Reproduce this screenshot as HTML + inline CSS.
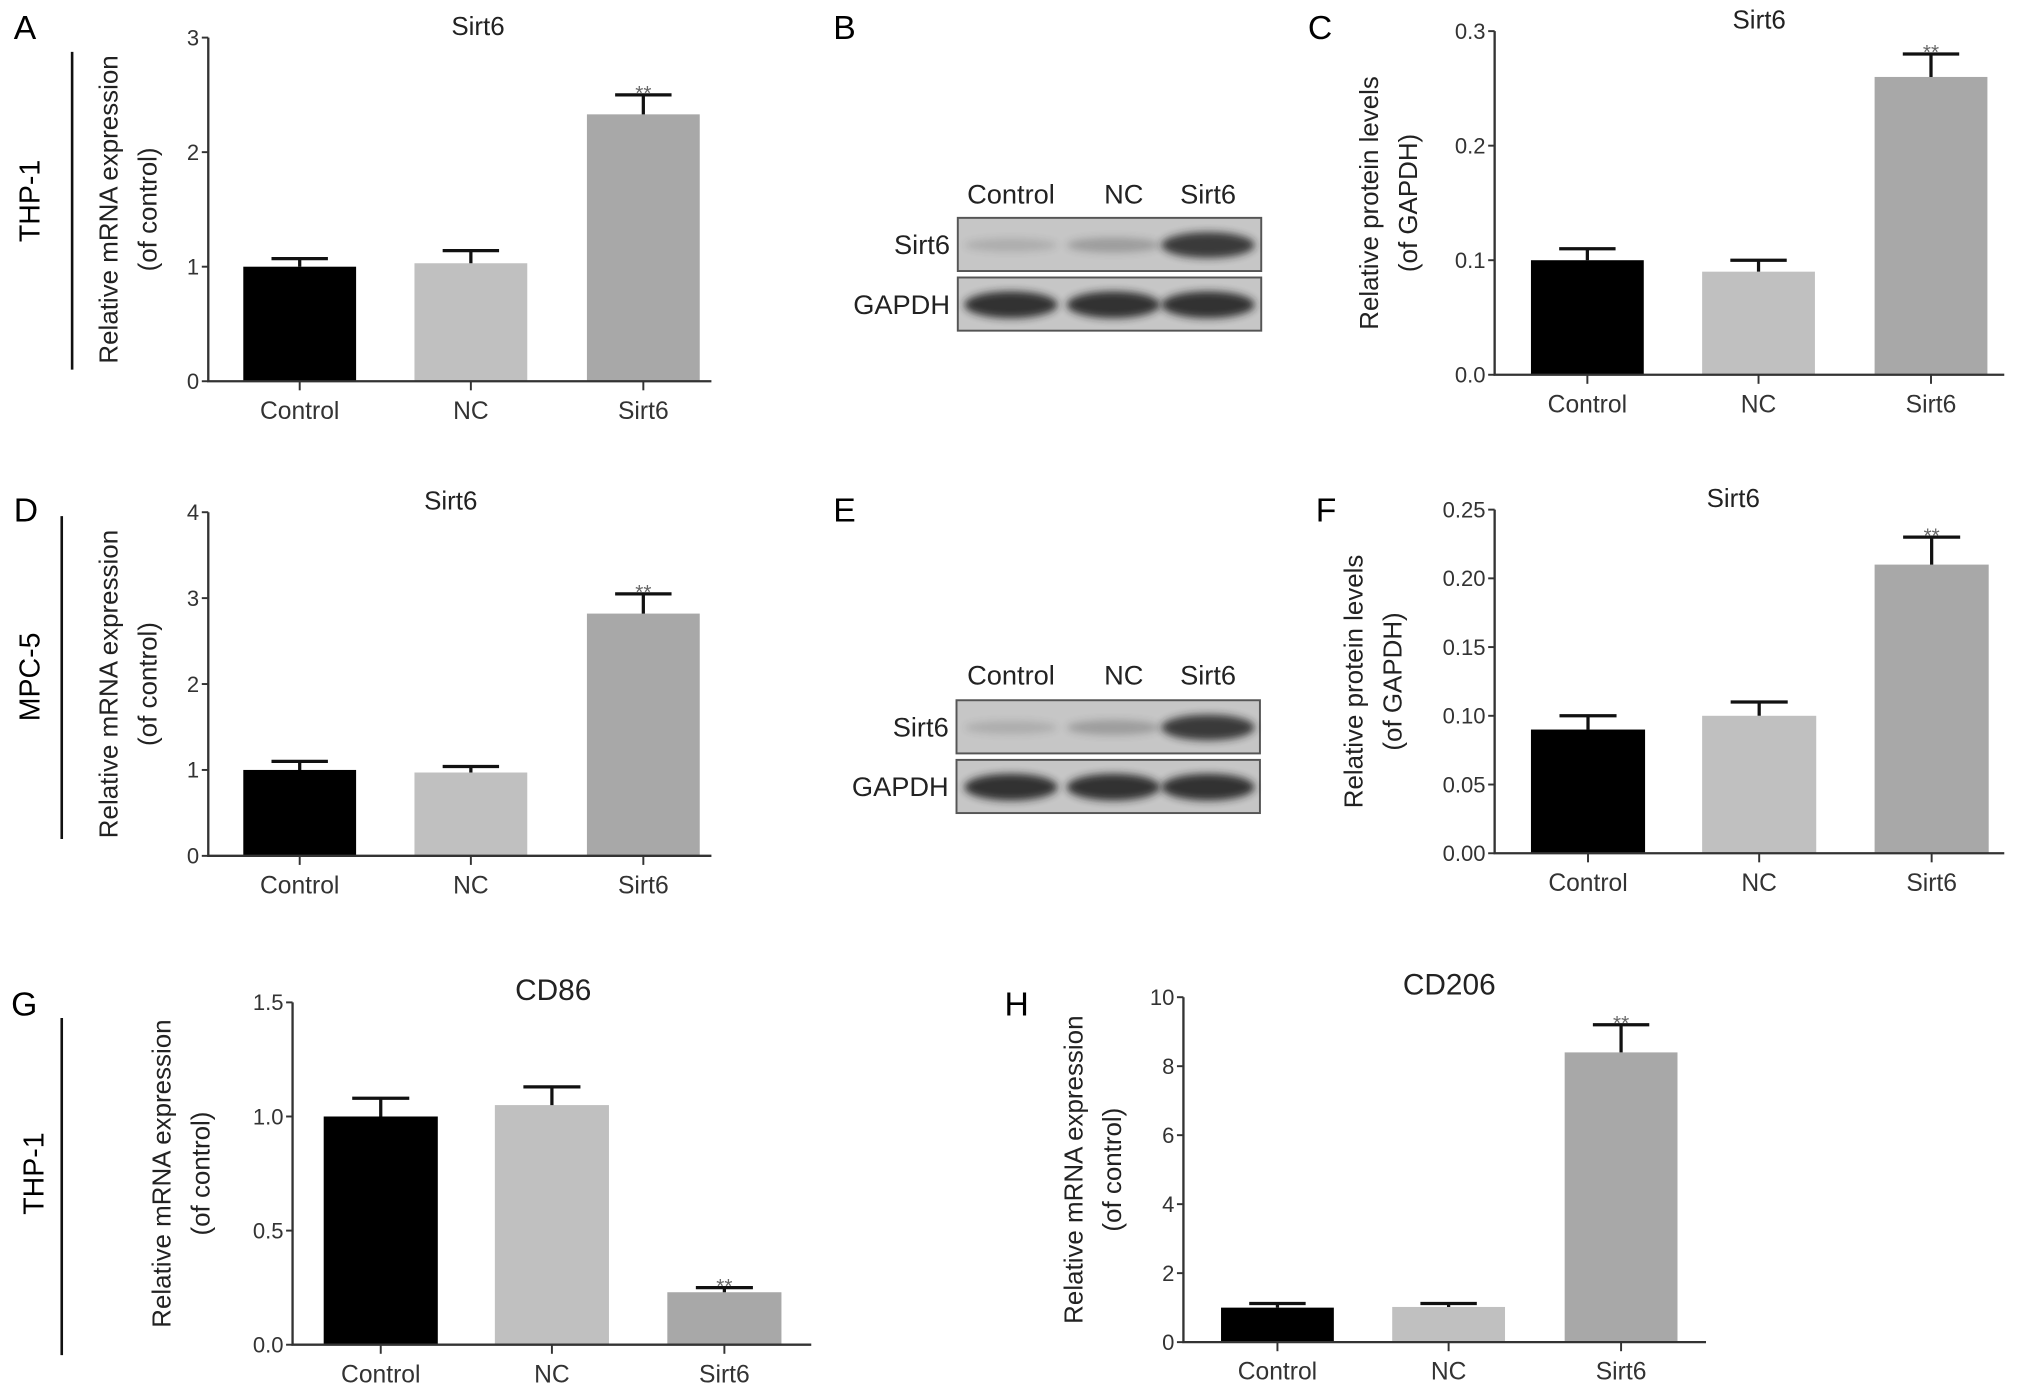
<!DOCTYPE html>
<html><head><meta charset="utf-8"><style>
html,body{margin:0;padding:0;background:#fff;}
svg{display:block;font-family:"Liberation Sans",sans-serif;}
</style></head><body>
<svg id="fig" width="2031" height="1394" viewBox="0 0 1565 1075" xmlns="http://www.w3.org/2000/svg">
<defs><filter id="blur" x="-20%" y="-50%" width="140%" height="200%"><feGaussianBlur stdDeviation="3"/></filter></defs>
<g id="static">
  <text x="10" y="30" font-size="26">A</text>
  <text x="642" y="30" font-size="26">B</text>
  <text x="1008" y="30" font-size="26">C</text>
  <text x="10" y="402" font-size="26">D</text>
  <text x="642" y="402" font-size="26">E</text>
  <text x="1014" y="402" font-size="26">F</text>
  <text x="8" y="783" font-size="26">G</text>
  <text x="774" y="783" font-size="26">H</text>
  <text transform="translate(30,155) rotate(-90)" text-anchor="middle" font-size="22">THP-1</text>
  <line x1="55" y1="40" x2="55" y2="285" stroke="#111" stroke-width="2"/>
  <text transform="translate(30,522) rotate(-90)" text-anchor="middle" font-size="22">MPC-5</text>
  <line x1="47" y1="398" x2="47" y2="647" stroke="#111" stroke-width="2"/>
  <text transform="translate(33,905) rotate(-90)" text-anchor="middle" font-size="22">THP-1</text>
  <line x1="47" y1="785" x2="47" y2="1045" stroke="#111" stroke-width="2"/>
</g>
<g id="charts"></g>
</svg>
<script>
// Panel data arrays
const categories = ["Control", "NC", "Sirt6"];
const valuesA = [1.0, 1.03, 2.33];
const errorsA = [0.07, 0.11, 0.17];
const valuesC = [0.10, 0.09, 0.26];
const errorsC = [0.01, 0.01, 0.02];
const valuesD = [1.0, 0.97, 2.82];
const errorsD = [0.10, 0.07, 0.23];
const valuesF = [0.09, 0.10, 0.21];
const errorsF = [0.01, 0.01, 0.02];
const valuesG = [1.0, 1.05, 0.23];
const errorsG = [0.08, 0.08, 0.02];
const valuesH = [1.0, 1.02, 8.4];
const errorsH = [0.12, 0.10, 0.8];
const ticksA = ["0", "1", "2", "3"];
const ticksC = ["0.0", "0.1", "0.2", "0.3"];
const ticksD = ["0", "1", "2", "3", "4"];
const ticksF = ["0.00", "0.05", "0.10", "0.15", "0.20", "0.25"];
const ticksG = ["0.0", "0.5", "1.0", "1.5"];
const ticksH = ["0", "2", "4", "6", "8", "10"];
const signif = ["", "", "**"];

const NS = "http://www.w3.org/2000/svg";
const root = document.getElementById("charts");
function mk(tag, attrs, parent, text) {
  const e = document.createElementNS(NS, tag);
  for (const k in attrs) e.setAttribute(k, attrs[k]);
  if (text !== undefined) e.textContent = text;
  parent.appendChild(e);
  return e;
}
const colors = ["#000000", "#c0c0c0", "#a8a8a8"];

function chart(id, cfg, values, errors, ticks) {
  const g = mk("g", {}, root);
  
  
  const tmin = parseFloat(ticks[0]), tmax = parseFloat(ticks[ticks.length - 1]);
  const y = v => cfg.y0 - (v - tmin) / (tmax - tmin) * (cfg.y0 - cfg.y1);
  const fs = cfg.fs || 17;
  const t = mk("text", {x: cfg.tx, y: cfg.y1 - 2, "text-anchor": "middle", "font-size": cfg.tfs || 20, fill: "#222"}, g, cfg.title);
  
  
  const yl = mk("text", {transform: `translate(${cfg.ylx},${(cfg.y0 + cfg.y1) / 2}) rotate(-90)`, "text-anchor": "middle", "font-size": 20, fill: "#222"}, g);
  
  
  mk("tspan", {x: 0, dy: 0}, yl, cfg.yl1);
  mk("tspan", {x: 0, dy: 30}, yl, cfg.yl2);
  for (let i = 0; i < values.length; i++) {
    const bx = cfg.bx[i], bw = cfg.bw;
    const top = y(values[i]);
    const r = mk("rect", {x: bx, y: top, width: bw, height: cfg.y0 - top, fill: colors[i]}, g);
    
    
    const cx = bx + bw / 2, et = y(values[i] + errors[i]);
    const eb = mk("path", {d: `M${cx},${top}V${et}M${cx - bw * 0.25},${et}H${cx + bw * 0.25}`, stroke: "#111", "stroke-width": 2.5, fill: "none"}, g);
    
    
    if (signif[i]) {
      const s = mk("text", {x: cx, y: et + 4, "text-anchor": "middle", "font-size": 16, fill: "#666"}, g, signif[i]);
      
      
    }
    const tk = mk("line", {x1: cx, x2: cx, y1: cfg.y0, y2: cfg.y0 + 7, stroke: "#333", "stroke-width": 1.5}, g);
    
    
    const cl = mk("text", {x: cx, y: cfg.y0 + 29, "text-anchor": "middle", "font-size": 19, fill: "#333"}, g, categories[i]);
    
    
  }
  const ax = mk("path", {d: `M${cfg.ax},${cfg.y1}V${cfg.y0}H${cfg.xe}`, stroke: "#333", "stroke-width": 1.8, fill: "none"}, g);
  
  
  ticks.forEach(tl => {
    const ty = y(parseFloat(tl));
    const tk = mk("line", {x1: cfg.ax - 5, x2: cfg.ax, y1: ty, y2: ty, stroke: "#333", "stroke-width": 1.5}, g);
    
    
    const tt = mk("text", {x: cfg.ax - 7, y: ty + 6, "text-anchor": "end", "font-size": fs, fill: "#333"}, g, tl);
    
    
  });
}

chart("a", {ax:160, y0:294, y1:29, xe:548, bx:[187,319,452], bw:87, tx:368, title:"Sirt6", ylx:90, yl1:"Relative mRNA expression", yl2:"(of control)"}, valuesA, errorsA, ticksA);
chart("c", {ax:1152, y0:289, y1:24, xe:1545, bx:[1180,1312,1445], bw:87, tx:1356, title:"Sirt6", ylx:1062, yl1:"Relative protein levels", yl2:"(of GAPDH)"}, valuesC, errorsC, ticksC);
chart("d", {ax:160, y0:660, y1:395, xe:548, bx:[187,319,452], bw:87, tx:347, title:"Sirt6", ylx:90, yl1:"Relative mRNA expression", yl2:"(of control)"}, valuesD, errorsD, ticksD);
chart("f", {ax:1152, y0:658, y1:393, xe:1545, bx:[1180,1312,1445], bw:88, tx:1336, title:"Sirt6", ylx:1050, yl1:"Relative protein levels", yl2:"(of GAPDH)", fs:17}, valuesF, errorsF, ticksF);
chart("g", {ax:225, y0:1037, y1:773, xe:625, bx:[249,381,514], bw:88, tx:426, title:"CD86", tfs:23, ylx:131, yl1:"Relative mRNA expression", yl2:"(of control)"}, valuesG, errorsG, ticksG);
chart("h", {ax:912, y0:1035, y1:769, xe:1315, bx:[941,1073,1206], bw:87, tx:1117, title:"CD206", tfs:23, ylx:834, yl1:"Relative mRNA expression", yl2:"(of control)"}, valuesH, errorsH, ticksH);

const laneX = [779, 858, 931];
const sirt6Band = [0.15, 0.25, 0.85];
const gapdhBand = [0.9, 0.9, 0.9];
function blot(id, ly, r1, r2, x0, x1) {
  const g = mk("g", {}, root);
  
  
  const lanes = [["Control", 779], ["NC", 866], ["Sirt6", 931]];
  lanes.forEach(l => {
    const t = mk("text", {x: l[1], y: ly, "text-anchor": "middle", "font-size": 21, fill: "#222"}, g, l[0]);
    
    
  });
  [[r1, "Sirt6", sirt6Band], [r2, "GAPDH", gapdhBand]].forEach(row => {
    const [ry, name, band] = row;
    const rr = mk("rect", {x: x0, y: ry, width: x1 - x0, height: 41, fill: "#c6c6c6", stroke: "#555", "stroke-width": 1.5}, g);
    
    
    const lt = mk("text", {x: x0 - 6, y: ry + 28, "text-anchor": "end", "font-size": 21, fill: "#222"}, g, name);
    
    
    band.forEach((b, i) => {
      const e = mk("ellipse", {cx: laneX[i], cy: ry + 21, rx: 36, ry: 4 + b * 7, fill: "#222", opacity: b, filter: "url(#blur)"}, g);
      
      
    });
  });
}
blot("b", 157, 168, 214, 738, 972);
blot("e", 528, 540, 586, 737, 971);
</script>
</body></html>
